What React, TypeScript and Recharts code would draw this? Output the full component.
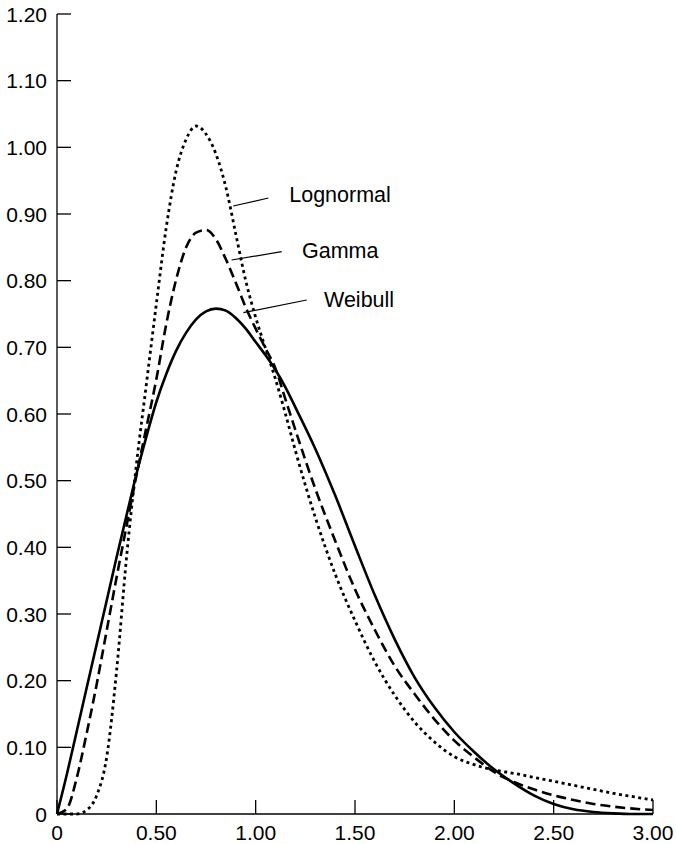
import React from "react";
import { LineChart, Line, XAxis, YAxis, ReferenceLine, ReferenceDot } from "recharts";

// x positions of the sampled points
const xValues = [
  0, 0.05, 0.1, 0.15, 0.2, 0.25, 0.3, 0.35, 0.4, 0.45, 0.5, 0.55, 0.6, 0.65, 0.7, 0.75,
  0.8, 0.85, 0.9, 0.95, 1.0, 1.05, 1.1, 1.15, 1.2, 1.3, 1.4, 1.5, 1.6, 1.7, 1.8, 1.9,
  2.0, 2.1, 2.2, 2.3, 2.4, 2.5, 2.6, 2.7, 2.8, 2.9, 3.0,
];

const weibull = [
  0, 0.06, 0.125, 0.19, 0.255, 0.32, 0.385, 0.448, 0.51, 0.566, 0.618, 0.66, 0.695, 0.722,
  0.742, 0.754, 0.758, 0.755, 0.744, 0.728, 0.708, 0.688, 0.666, 0.64, 0.61, 0.548, 0.478,
  0.402, 0.328, 0.262, 0.205, 0.16, 0.123, 0.093, 0.067, 0.046, 0.028, 0.015, 0.007, 0.003,
  0.001, 0, 0,
];

const gamma = [
  0, 0.008, 0.055, 0.122, 0.195, 0.275, 0.355, 0.432, 0.508, 0.58, 0.652, 0.735, 0.802,
  0.85, 0.872, 0.876, 0.862, 0.832, 0.797, 0.76, 0.728, 0.698, 0.668, 0.622, 0.576, 0.488,
  0.41, 0.337, 0.276, 0.222, 0.18, 0.142, 0.11, 0.085, 0.063, 0.048, 0.037, 0.028, 0.021,
  0.015, 0.011, 0.008, 0.006,
];

const lognormal = [
  0, 0, 0, 0.006, 0.028, 0.085, 0.215, 0.385, 0.525, 0.645, 0.765, 0.88, 0.965, 1.012,
  1.032, 1.02, 0.99, 0.94, 0.87, 0.8, 0.745, 0.698, 0.652, 0.6, 0.545, 0.445, 0.36,
  0.29, 0.228, 0.178, 0.138, 0.108, 0.086, 0.074, 0.066, 0.061, 0.055, 0.049, 0.043, 0.037,
  0.031, 0.026, 0.021,
];

const xTicks = [0, 0.5, 1.0, 1.5, 2.0, 2.5, 3.0];
const yTicks = [0, 0.1, 0.2, 0.3, 0.4, 0.5, 0.6, 0.7, 0.8, 0.9, 1.0, 1.1, 1.2];

// curve labels with their leader lines (data coordinates)
const callouts = [
  { text: "Lognormal", from: [0.887, 0.912], to: [1.064, 0.924], at: [1.169, 0.9185] },
  { text: "Gamma", from: [0.879, 0.831], to: [1.131, 0.8435], at: [1.233, 0.8335] },
  { text: "Weibull", from: [0.938, 0.752], to: [1.257, 0.771], at: [1.344, 0.761] },
];

const data = xValues.map((x, i) => ({
  x,
  weibull: weibull[i],
  gamma: gamma[i],
  lognormal: lognormal[i],
}));

const FONT = "'Liberation Sans', Arial, Helvetica, sans-serif";
const fmt = (v: number) => (v === 0 ? "0" : v.toFixed(2));

const YTick = (props: any) => {
  const { x, y, payload } = props;
  return (
    <g>
      <line x1={x + 10} y1={y} x2={x + 24} y2={y} stroke="#000" strokeWidth={1.3} />
      <text x={x} y={y} dy="0.36em" textAnchor="end" fontSize={21} fontFamily={FONT} fill="#000">
        {fmt(payload.value)}
      </text>
    </g>
  );
};

const XTick = (props: any) => {
  const { x, y, payload } = props;
  return (
    <g>
      <line x1={x} y1={y - 11} x2={x} y2={y - 25} stroke="#000" strokeWidth={1.3} />
      <text x={x} y={y} dy="0.71em" textAnchor="middle" fontSize={21} fontFamily={FONT} fill="#000">
        {fmt(payload.value)}
      </text>
    </g>
  );
};

const CalloutText = (props: any) => {
  const { viewBox, text } = props;
  return (
    <text x={viewBox.x} y={viewBox.y} textAnchor="start" fontSize={21.5} fontFamily={FONT} fill="#000">
      {text}
    </text>
  );
};

export default function App() {
  return (
    <div style={{ position: "absolute", left: 0, top: 0, width: 676, height: 844, background: "#fff" }}>
      <LineChart width={676} height={844} data={data} margin={{ top: 14, right: 23, bottom: 0, left: 0 }}>
        <XAxis
          type="number"
          dataKey="x"
          domain={[0, 3]}
          ticks={xTicks}
          interval={0}
          height={30}
          tickSize={0}
          tickMargin={11}
          tickLine={false}
          axisLine={{ stroke: "#000", strokeWidth: 1.3 }}
          tick={<XTick />}
        />
        <YAxis
          type="number"
          domain={[0, 1.2]}
          ticks={yTicks}
          interval={0}
          width={57}
          tickSize={0}
          tickMargin={10}
          tickLine={false}
          axisLine={{ stroke: "#000", strokeWidth: 1.3 }}
          tick={<YTick />}
        />
        <Line
          type="monotone"
          dataKey="lognormal"
          stroke="#000"
          strokeWidth={2.8}
          strokeDasharray="3 3.5"
          dot={false}
          isAnimationActive={false}
        />
        <Line
          type="monotone"
          dataKey="gamma"
          stroke="#000"
          strokeWidth={2.6}
          strokeDasharray="10 5"
          dot={false}
          isAnimationActive={false}
        />
        <Line
          type="monotone"
          dataKey="weibull"
          stroke="#000"
          strokeWidth={2.6}
          dot={false}
          isAnimationActive={false}
        />
        {callouts.map((c) => (
          <ReferenceLine
            key={c.text + "-line"}
            segment={[
              { x: c.from[0], y: c.from[1] },
              { x: c.to[0], y: c.to[1] },
            ]}
            stroke="#000"
            strokeWidth={1.2}
            ifOverflow="visible"
          />
        ))}
        {callouts.map((c) => (
          <ReferenceDot
            key={c.text + "-label"}
            x={c.at[0]}
            y={c.at[1]}
            r={0}
            fill="none"
            stroke="none"
            ifOverflow="visible"
            label={<CalloutText text={c.text} />}
          />
        ))}
      </LineChart>
    </div>
  );
}
